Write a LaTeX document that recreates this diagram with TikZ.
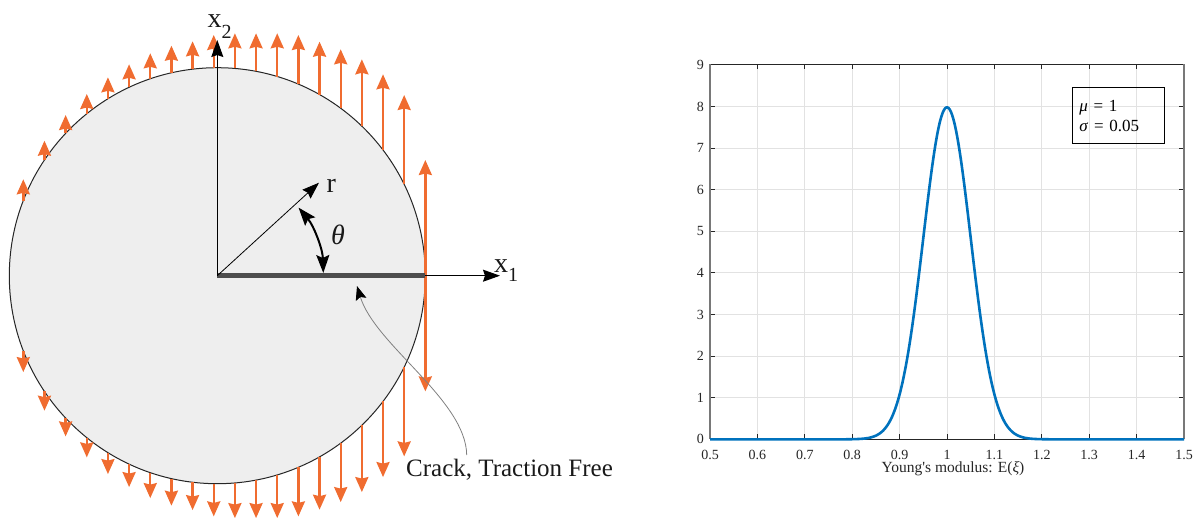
\documentclass[tikz,border=0pt]{standalone}
\usepackage{fontspec}
\setmainfont{Liberation Serif}
\newfontfamily\plainserif{Liberation Serif}
\usetikzlibrary{arrows.meta}
\definecolor{tract}{RGB}{240,108,48}
\definecolor{mblue}{RGB}{0,114,189}
\definecolor{diskfill}{RGB}{238,238,238}
\definecolor{crackc}{RGB}{77,77,77}
\definecolor{gridc}{RGB}{226,226,226}
\definecolor{axc}{RGB}{38,38,38}
\definecolor{sidec}{RGB}{120,120,120}
\newcommand\myfs[1]{\fontsize{#1}{#1}\selectfont}
\begin{document}
\begin{tikzpicture}[x=1pt,y=-1pt,
  tr/.style={draw=tract,line width=2.4pt,-{Stealth[length=15pt,width=13pt,inset=1.5pt]}},
  axarrow/.style={draw=black,line width=1pt,-{Stealth[length=17pt,width=12pt,inset=2pt]}},
  lbl/.style={inner sep=0pt,text=black!90},
  ticklbl/.style={inner sep=0pt,font=\myfs{14},text=axc},
  gridline/.style={draw=gridc,line width=1pt},
  tickline/.style={draw=axc,line width=1pt},
  leader/.style={draw=gray,line width=0.8pt,-{Stealth[length=14pt,width=11pt,inset=2.5pt,color=black]}}
]
\useasboundingbox (0,0) rectangle (1193,517);
% ---------- left: disk ----------
\coordinate (O) at (217.3,275.7);
\fill[diskfill] (O) circle[radius=208];
\draw[line width=1pt,black!85] (O) circle[radius=208];
\foreach \i/\h in {1/96.4,2/135,3/160.7,4/181.7,5/198.4,6/211.4,7/222.4,8/230,9/234.4,10/240.7,
                   11/242.4,12/242.4,13/242.4,14/240.7,15/234,16/226.4,17/216.4,18/201.4,19/180.7,20/115.7}{
  \pgfmathsetmacro\xx{23.3+21.16*(\i-1)}
  \pgfmathsetmacro\cc{max(-1,min(1,(\xx-217.3)/208))}
  \pgfmathsetmacro\dy{208*sin(acos(\cc))}
  \draw[tr] (\xx,275.7-\dy) -- (\xx,275.7-\h);
  \draw[tr] (\xx,275.7+\dy) -- (\xx,275.7+\h);
}
\coordinate (T) at (425.3,275.7);
\coordinate (X1) at (500,275.7);
\coordinate (X2) at (217.3,40);
\coordinate (R) at (319,182.7);
\coordinate (A0) at (323.3,273);
\draw[crackc,line width=5pt] (O) -- (T);
\draw[axarrow] (T) -- (X1);
\draw[axarrow] (O) -- (X2);
\draw[axarrow,line width=0.8pt] (O) -- (R);
\draw[line width=2pt,{Stealth[length=18pt,width=13pt,inset=3pt]}-{Stealth[length=18pt,width=13pt,inset=3pt]}]
  (A0) arc[start angle=-1.5,end angle=-40,radius=106];
\node[lbl,anchor=base west,font=\myfs{28}] (x2lbl) at (207.5,27) {x\raisebox{-11pt}{\myfs{20}2}};
\node[lbl,anchor=base west,font=\myfs{28}] (x1lbl) at (494,272) {x\raisebox{-9pt}{\myfs{20}1}};
\node[lbl,anchor=base west,font=\myfs{28}] (rlbl) at (326.5,192) {r};
\node[lbl,font=\myfs{28}] (thlbl) at (338,235) {\textit{θ}};
\node[lbl,anchor=base west,font=\myfs{25}] (crack) at (406,476.7) {Crack, Traction Free};
\coordinate (L0) at (466.7,455);
\coordinate (L1) at (357,286);
\draw[leader] (L0) .. controls (466,400) and (375,345) .. (L1);
% ---------- right: plot ----------
\foreach \k in {1,...,9}{
  \pgfmathsetmacro\gx{710+47.4*\k}
  \draw[gridline] (\gx,64.4) -- (\gx,439.3);
}
\foreach \k in {1,...,8}{
  \pgfmathsetmacro\gy{439.3-41.6*\k}
  \draw[gridline] (710,\gy) -- (1184,\gy);
}
\foreach \k/\lab in {0/0.5,1/0.6,2/0.7,3/0.8,4/0.9,5/1,6/1.1,7/1.2,8/1.3,9/1.4,10/1.5}{
  \pgfmathsetmacro\gx{710+47.4*\k}
  \draw[tickline] (\gx,439.3) -- (\gx,434.3);
  \draw[tickline] (\gx,64.4) -- (\gx,69.4);
  \node[ticklbl,anchor=base] (xt\k) at (\gx,459) {\lab};
}
\foreach \k in {0,...,9}{
  \pgfmathsetmacro\gy{439.3-41.6*\k}
  \draw[tickline] (710,\gy) -- (715,\gy);
  \draw[tickline] (1184,\gy) -- (1179,\gy);
  \node[ticklbl,anchor=east] (yt\k) at (704,\gy) {\k};
}
\draw[axc,line width=1pt] (710,64.4) -- (1184,64.4);
\draw[axc,line width=1pt] (710,439.3) -- (1184,439.3);
\draw[sidec,line width=1.6pt] (710,64.4) -- (710,439.3);
\draw[sidec,line width=1.6pt] (1184,64.4) -- (1184,439.3);
\draw[mblue,line width=2.6pt,line join=round]
  (710,439.3) -- (781.1,439.3) --
  plot[domain=0.65:1.35,samples=281,smooth] ({710+(\x-0.5)*474},{439.3-7.9788*41.6*exp(-200*(\x-1)*(\x-1))})
  -- (1184,439.3);
\node[draw=black,line width=0.8pt,anchor=north west,inner xsep=7pt,inner ysep=0pt,
      minimum height=56pt,text width=78pt,align=left,font=\fontsize{17}{20}\selectfont,text=black]
  (legend) at (1072,87.3) {\textit{μ} = 1\\\textit{σ} = 0.05};
\node[anchor=base,font=\plainserif\myfs{15.5},text=axc] (xlab) at (953,472) {Young's modulus: E(\textit{ξ})};
\end{tikzpicture}
\end{document}
